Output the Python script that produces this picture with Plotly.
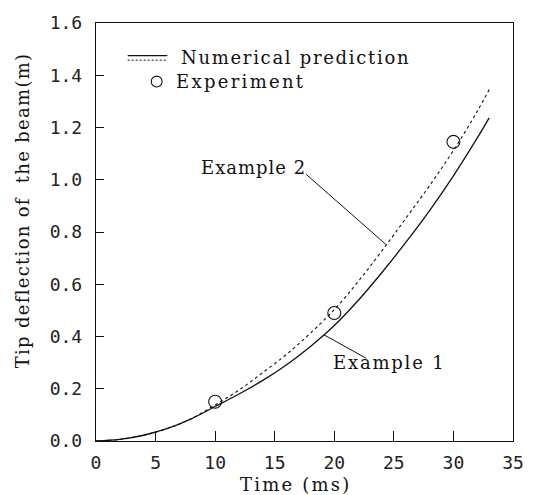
import numpy as np
import plotly.graph_objects as go

# Time axis (ms) for the two numerical predictions
time_ms = [0, 2, 4, 6, 8, 10, 12, 14, 16, 18, 20, 22, 24, 26, 28, 30, 32, 33]
# Example 1: numerical prediction (solid)
example1 = [0, 0.006, 0.022, 0.048, 0.085, 0.132, 0.180, 0.232, 0.292, 0.362,
            0.442, 0.538, 0.645, 0.760, 0.882, 1.015, 1.160, 1.237]
# Example 2: numerical prediction (dotted)
example2 = [0, 0.006, 0.022, 0.048, 0.086, 0.138, 0.195, 0.262, 0.332, 0.413,
            0.503, 0.610, 0.728, 0.852, 0.978, 1.112, 1.262, 1.345]
# Experimental measurements
exp_time = [10, 20, 30]
exp_defl = [0.15, 0.49, 1.145]

x_ticks = [0, 5, 10, 15, 20, 25, 30, 35]
y_ticks = [0.0, 0.2, 0.4, 0.6, 0.8, 1.0, 1.2, 1.4, 1.6]

TEXT_FONT = "DejaVu Serif"
TICK_FONT = "DejaVu Sans Mono"
INK = "#111111"


def spaced(s, px=1.7):
    """Wrap label text in a span with extra letter spacing."""
    return f'<span style="letter-spacing:{px}px">{s}</span>'


text_font = dict(family=TEXT_FONT, size=18, color=INK)

fig = go.Figure()
fig.add_trace(go.Scatter(x=time_ms, y=example1, mode="lines", line_shape="spline",
                         line=dict(color=INK, width=1.3), showlegend=False))
fig.add_trace(go.Scatter(x=time_ms, y=example2, mode="lines", line_shape="spline",
                         line=dict(color=INK, width=1.1, dash="3px,3px"), showlegend=False))
fig.add_trace(go.Scatter(x=exp_time, y=exp_defl, mode="markers",
                         marker=dict(symbol="circle-open", size=13, color=INK,
                                     line=dict(width=1.1)), showlegend=False))

# Leader lines from the labels to the curves
t2 = 24.37
t1 = 19.12
fig.add_shape(type="line", x0=17.63, y0=1.021, x1=t2, y1=float(np.interp(t2, time_ms, example2)),
              line=dict(color=INK, width=1))
fig.add_shape(type="line", x0=22.67, y0=0.317, x1=t1, y1=float(np.interp(t1, time_ms, example1)),
              line=dict(color=INK, width=1))
fig.add_annotation(x=8.62, y=1.048, xanchor="left", text=spaced("Example 2", 1.0),
                   showarrow=False, font=text_font)
fig.add_annotation(x=19.7, y=0.302, xanchor="left", text=spaced("Example 1", 1.8),
                   showarrow=False, font=text_font)

# Hand-built legend in the upper-left corner
fig.add_shape(type="line", xref="paper", yref="paper", x0=0.076, x1=0.171, y0=0.922, y1=0.922,
              line=dict(color=INK, width=1.2))
fig.add_shape(type="line", xref="paper", yref="paper", x0=0.076, x1=0.171, y0=0.911, y1=0.911,
              line=dict(color=INK, width=1, dash="2px,2px"))
fig.add_annotation(xref="paper", yref="paper", x=0.199, y=0.917, xanchor="left", yanchor="middle",
                   text=spaced("Numerical prediction"), showarrow=False, font=text_font)
fig.add_shape(type="circle", xref="paper", yref="paper",
              x0=0.1325, x1=0.1585, y0=0.847, y1=0.873,
              line=dict(color=INK, width=1.1))
fig.add_annotation(xref="paper", yref="paper", x=0.186, y=0.860, xanchor="left", yanchor="middle",
                   text=spaced("Experiment", 2.3), showarrow=False, font=text_font)

# Axis titles
fig.add_annotation(xref="paper", yref="paper", x=0.340, y=-0.104, xanchor="left", yanchor="middle",
                   text=spaced("Time (ms)", 2.2), showarrow=False, font=text_font)
fig.add_annotation(xref="paper", yref="paper", x=-0.176, y=0.551, xanchor="center", yanchor="middle",
                   text=spaced("Tip deflection of&nbsp;&nbsp;the beam(m)", 1.3), textangle=-90,
                   showarrow=False, font=text_font)

axis_common = dict(showgrid=False, zeroline=False, showline=True, linecolor=INK, linewidth=1.4,
                   mirror=True, ticks="inside", tickcolor=INK, tickwidth=1,
                   tickfont=dict(family=TICK_FONT, size=18, color="#222222"))
fig.update_xaxes(range=[0, 35], tickvals=x_ticks, ticktext=[str(v) for v in x_ticks],
                 ticklen=10, ticklabelstandoff=5, **axis_common)
fig.update_yaxes(range=[0, 1.6], tickvals=y_ticks, ticktext=[f"{v:.1f}" for v in y_ticks],
                 ticklen=8, ticklabelstandoff=9, **axis_common)

fig.update_layout(width=536, height=495, margin=dict(l=96, r=12, t=14, b=54),
                  plot_bgcolor="white", paper_bgcolor="white", showlegend=False)

fig.write_html("out.html")
